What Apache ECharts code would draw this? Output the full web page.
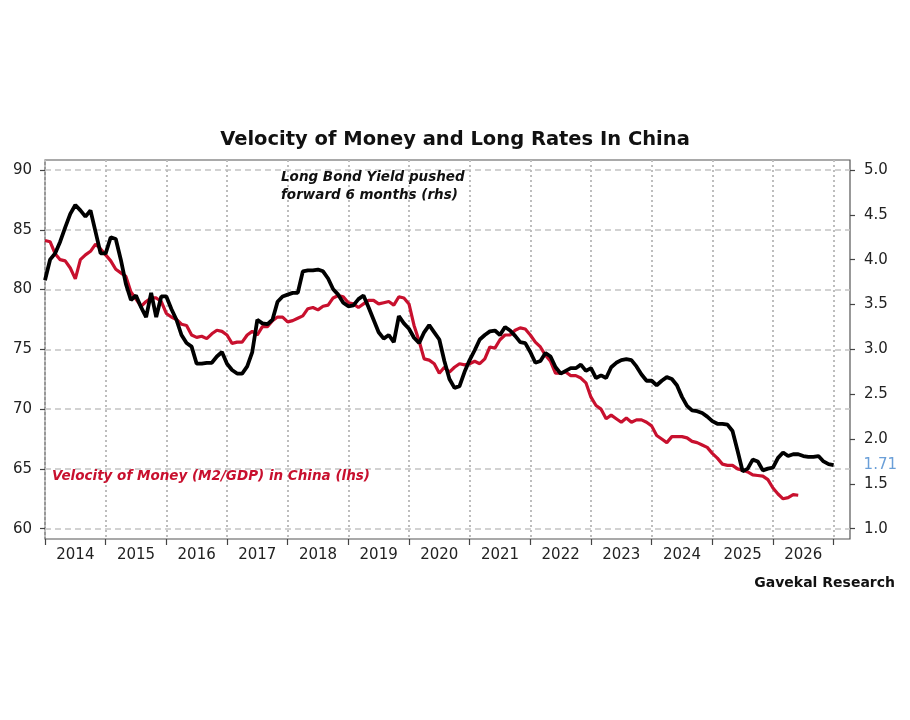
<!DOCTYPE html>
<html>
<head>
<meta charset="utf-8">
<title>Velocity of Money and Long Rates In China</title>
<script src="https://cdn.jsdelivr.net/npm/echarts@6.0.0/dist/echarts.min.js"></script>
<style>
  html, body { margin: 0; padding: 0; background: #fff; }
  #chart { width: 910px; height: 720px; }
</style>
</head>
<body>
<div id="chart"></div>
<script>
// monthly data, first point = Jan 2014
const startYear = 2014;
const yearLabels = ['2014', '2015', '2016', '2017', '2018', '2019', '2020',
                    '2021', '2022', '2023', '2024', '2025', '2026'];
const yearTicks = [2014, 2015, 2016, 2017, 2018, 2019, 2020,
                   2021, 2022, 2023, 2024, 2025, 2026, 2027];

// Velocity of money (M2/GDP), lhs
const velocity = [
    84.1, 84.0, 83.0, 82.5, 82.4, 81.8, 80.9, 82.5, 82.9, 83.2, 83.8, 83.4,
    82.9, 82.4, 81.7, 81.4, 81.1, 79.8, 79.2, 78.6, 79.0, 79.3, 79.3, 79.0,
    78.0, 77.7, 77.5, 77.1, 77.0, 76.2, 76.0, 76.1, 75.9, 76.3, 76.6, 76.5,
    76.2, 75.5, 75.6, 75.6, 76.2, 76.5, 76.2, 76.9, 76.9, 77.4, 77.7, 77.7,
    77.3, 77.4, 77.6, 77.8, 78.4, 78.5, 78.3, 78.6, 78.7, 79.3, 79.5, 79.4,
    78.9, 78.8, 78.5, 78.8, 79.1, 79.1, 78.8, 78.9, 79.0, 78.7, 79.4, 79.3,
    78.8, 77.0, 75.7, 74.2, 74.1, 73.8, 73.0, 73.5, 73.1, 73.5, 73.8, 73.7,
    73.8, 74.0, 73.8, 74.2, 75.2, 75.1, 75.8, 76.2, 76.2, 76.6, 76.8, 76.7,
    76.2, 75.6, 75.2, 74.5, 74.0, 73.0, 73.0, 73.1, 72.8, 72.8, 72.6, 72.2,
    71.0, 70.3, 70.0, 69.2, 69.5, 69.2, 68.9, 69.25, 68.9, 69.1, 69.1, 68.9,
    68.6, 67.8, 67.5, 67.2, 67.7, 67.7, 67.7, 67.6, 67.3, 67.2, 67.0, 66.8,
    66.3, 65.9, 65.4, 65.3, 65.3, 65.0, 64.9, 64.75, 64.5, 64.45, 64.4, 64.1,
    63.4, 62.9, 62.5, 62.6, 62.85, 62.8
];

// Long bond yield pushed forward 6 months, rhs
const bondYield = [
    3.77, 4.00, 4.07, 4.20, 4.36, 4.51, 4.61, 4.55, 4.48, 4.55, 4.31, 4.07,
    4.07, 4.25, 4.23, 4.00, 3.73, 3.55, 3.60, 3.47, 3.36, 3.63, 3.36, 3.59,
    3.59, 3.45, 3.33, 3.16, 3.07, 3.03, 2.84, 2.84, 2.85, 2.85, 2.92, 2.97,
    2.84, 2.77, 2.73, 2.73, 2.81, 2.97, 3.33, 3.29, 3.28, 3.33, 3.53, 3.59,
    3.61, 3.63, 3.63, 3.87, 3.88, 3.88, 3.89, 3.87, 3.79, 3.67, 3.61, 3.52,
    3.48, 3.49, 3.56, 3.60, 3.47, 3.33, 3.19, 3.12, 3.16, 3.08, 3.37, 3.29,
    3.23, 3.13, 3.07, 3.19, 3.27, 3.19, 3.11, 2.87, 2.67, 2.57, 2.59, 2.75,
    2.88, 2.99, 3.11, 3.16, 3.20, 3.21, 3.16, 3.25, 3.21, 3.15, 3.08, 3.07,
    2.97, 2.85, 2.87, 2.96, 2.92, 2.80, 2.73, 2.76, 2.79, 2.79, 2.83, 2.76,
    2.79, 2.68, 2.71, 2.68, 2.80, 2.85, 2.88, 2.89, 2.88, 2.81, 2.72, 2.65,
    2.65, 2.60, 2.65, 2.69, 2.67, 2.60, 2.47, 2.37, 2.32, 2.31, 2.29, 2.25,
    2.20, 2.17, 2.17, 2.16, 2.09, 1.87, 1.64, 1.67, 1.77, 1.75, 1.65, 1.67,
    1.68, 1.79, 1.85, 1.81, 1.83, 1.83, 1.81, 1.80, 1.80, 1.81, 1.75, 1.72,
    1.71
];

const lhsMin = 60, lhsMax = 90, lhsStep = 5;
const rhsMin = 1, rhsMax = 5, rhsStep = 0.5;
const xMax = 2027.27;

const toPoints = arr => arr.map((v, i) => [startYear + i / 12, v]);

const chart = echarts.init(document.getElementById('chart'));
const font = '"DejaVu Sans", "Open Sans", sans-serif';
const red = '#c8102e';

const option = {
    animation: false,
    backgroundColor: '#fff',
    textStyle: { fontFamily: font },
    title: [
        {
            text: 'Velocity of Money and Long Rates In China',
            left: 'center',
            top: 125,
            textStyle: { fontSize: 19.5, fontWeight: 'bold', color: '#111', fontFamily: font }
        },
        {
            text: 'Long Bond Yield pushed\nforward 6 months (rhs)',
            left: 276,
            top: 163,
            textStyle: { fontSize: 13.5, fontStyle: 'italic', fontWeight: 'bold', color: '#111',
                         lineHeight: 18, fontFamily: font }
        },
        {
            text: 'Velocity of Money (M2/GDP) in China (lhs)',
            left: 47,
            top: 464,
            textStyle: { fontSize: 13.5, fontStyle: 'italic', fontWeight: 'bold', color: red, fontFamily: font }
        },
        {
            text: 'Gavekal Research',
            right: 10,
            top: 571,
            textStyle: { fontSize: 14, fontWeight: 'bold', color: '#111', fontFamily: font }
        }
    ],
    grid: [
        { left: 45, right: 60, top: 170, bottom: 191.3 },
        { left: 45, right: 60, top: 160, bottom: 181, show: true,
          borderColor: '#555', borderWidth: 1.2, backgroundColor: 'transparent' }
    ],
    xAxis: [
        { gridIndex: 0, type: 'value', min: startYear, max: xMax, show: false },
        {
            gridIndex: 1, type: 'value', min: startYear, max: xMax, interval: 1,
            axisLine: { show: false },
            axisTick: { show: true, length: 6, customValues: yearTicks,
                        lineStyle: { color: '#444', width: 1.2 } },
            axisLabel: {
                customValues: yearLabels.map(y => +y + 0.5),
                formatter: v => String(Math.floor(v)),
                fontSize: 15, color: '#222', margin: 9
            },
            splitLine: { show: true, lineStyle: { color: '#bdbdbd', width: 2, type: [2, 3] } }
        }
    ],
    yAxis: [
        {
            gridIndex: 0, type: 'value', position: 'left',
            min: lhsMin, max: lhsMax, interval: lhsStep,
            axisLine: { show: false },
            axisTick: { show: true, length: 5, lineStyle: { color: '#444', width: 1.2 } },
            axisLabel: { fontSize: 15, color: '#222', margin: 13 },
            splitLine: { show: true, lineStyle: { color: '#c4c4c4', width: 1.5, type: [6, 4] } }
        },
        {
            gridIndex: 0, type: 'value', position: 'right',
            min: rhsMin, max: rhsMax, interval: rhsStep,
            axisLine: { show: false },
            axisTick: { show: true, length: 5, lineStyle: { color: '#444', width: 1.2 } },
            axisLabel: { fontSize: 15, color: '#222', margin: 14, formatter: v => v.toFixed(1) },
            splitLine: { show: false }
        },
        { gridIndex: 1, type: 'value', min: 0, max: 1, show: false }
    ],
    series: [
        {
            name: 'Velocity of Money (M2/GDP) in China',
            type: 'line',
            xAxisIndex: 0, yAxisIndex: 0,
            data: toPoints(velocity),
            symbol: 'none',
            lineStyle: { color: red, width: 3.2 },
            itemStyle: { color: red },
            z: 3
        },
        {
            name: 'Long Bond Yield pushed forward 6 months',
            type: 'line',
            xAxisIndex: 0, yAxisIndex: 1,
            data: toPoints(bondYield),
            symbol: 'none',
            lineStyle: { color: '#000', width: 3.8 },
            itemStyle: { color: '#000' },
            endLabel: {
                show: true,
                formatter: p => p.value[1].toFixed(2),
                color: '#6a9fd8', fontSize: 15, distance: 30
            },
            z: 4
        }
    ]
};

chart.setOption(option);

window.addEventListener('resize', () => {
    chart.resize();
});
</script>
</body>
</html>
